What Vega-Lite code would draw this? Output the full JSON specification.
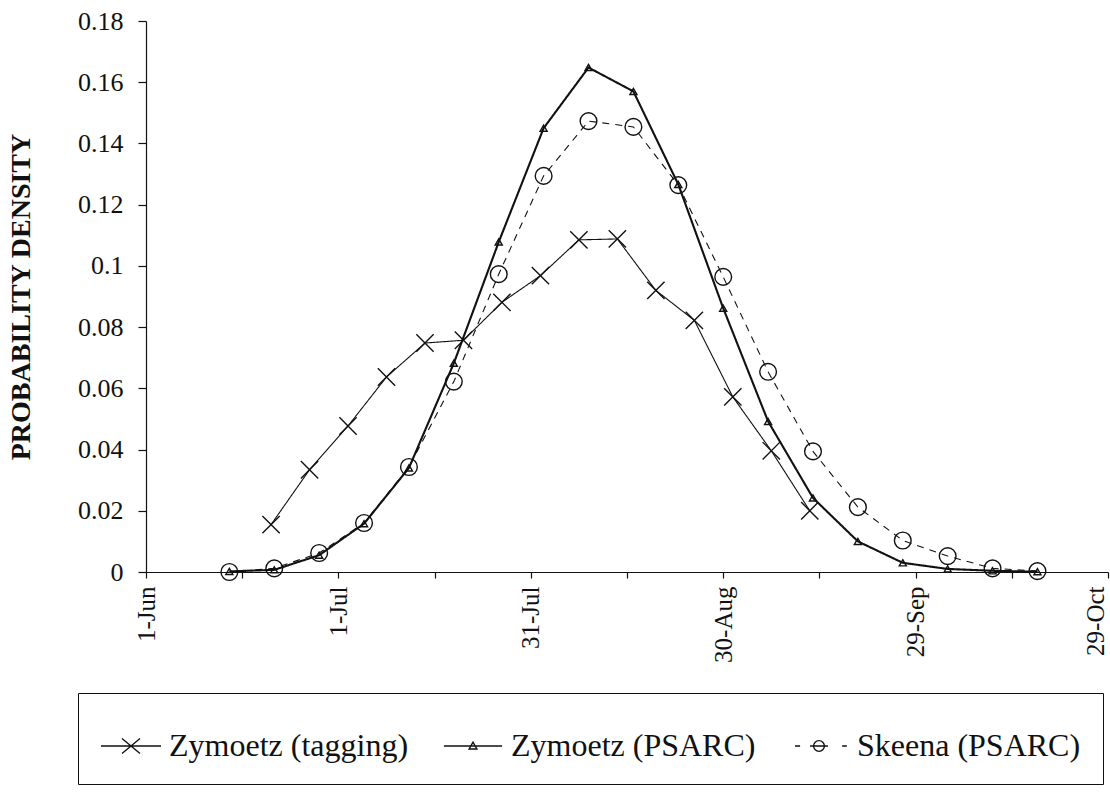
{
  "$schema": "https://vega.github.io/schema/vega-lite/v6.json",
  "width": 962,
  "height": 551,
  "autosize": "none",
  "padding": {"left": 146, "top": 21, "right": 2, "bottom": 223},
  "background": "white",
  "config": {
    "view": {"stroke": null},
    "font": "Liberation Serif, Times New Roman, serif",
    "axis": {"grid": false, "domainColor": "#111", "tickColor": "#111", "labelColor": "#111", "titleColor": "#111", "labelFont": "Liberation Serif, Times New Roman, serif", "titleFont": "Liberation Serif, Times New Roman, serif", "domainWidth": 1.2, "tickWidth": 1.2},
    "legend": {"labelFont": "Liberation Serif, Times New Roman, serif"}
  },
  "data": {
    "values": [
      {"date": "2001-06-20T12:00:00Z", "series": "Zymoetz (tagging)", "value": 0.0155},
      {"date": "2001-06-26T12:00:00Z", "series": "Zymoetz (tagging)", "value": 0.0334},
      {"date": "2001-07-02T12:00:00Z", "series": "Zymoetz (tagging)", "value": 0.0477},
      {"date": "2001-07-08T12:00:00Z", "series": "Zymoetz (tagging)", "value": 0.0637},
      {"date": "2001-07-14T12:00:00Z", "series": "Zymoetz (tagging)", "value": 0.0748},
      {"date": "2001-07-20T12:00:00Z", "series": "Zymoetz (tagging)", "value": 0.0757},
      {"date": "2001-07-26T12:00:00Z", "series": "Zymoetz (tagging)", "value": 0.0881},
      {"date": "2001-08-01T12:00:00Z", "series": "Zymoetz (tagging)", "value": 0.0968},
      {"date": "2001-08-07T12:00:00Z", "series": "Zymoetz (tagging)", "value": 0.1085},
      {"date": "2001-08-13T12:00:00Z", "series": "Zymoetz (tagging)", "value": 0.1088},
      {"date": "2001-08-19T12:00:00Z", "series": "Zymoetz (tagging)", "value": 0.0920},
      {"date": "2001-08-25T12:00:00Z", "series": "Zymoetz (tagging)", "value": 0.0822},
      {"date": "2001-08-31T12:00:00Z", "series": "Zymoetz (tagging)", "value": 0.0572},
      {"date": "2001-09-06T12:00:00Z", "series": "Zymoetz (tagging)", "value": 0.0396},
      {"date": "2001-09-12T12:00:00Z", "series": "Zymoetz (tagging)", "value": 0.0200},

      {"date": "2001-06-14", "series": "Zymoetz (PSARC)", "value": 0.0002},
      {"date": "2001-06-21", "series": "Zymoetz (PSARC)", "value": 0.0007},
      {"date": "2001-06-28", "series": "Zymoetz (PSARC)", "value": 0.0055},
      {"date": "2001-07-05", "series": "Zymoetz (PSARC)", "value": 0.0158},
      {"date": "2001-07-12", "series": "Zymoetz (PSARC)", "value": 0.0340},
      {"date": "2001-07-19", "series": "Zymoetz (PSARC)", "value": 0.0682},
      {"date": "2001-07-26", "series": "Zymoetz (PSARC)", "value": 0.1078},
      {"date": "2001-08-02", "series": "Zymoetz (PSARC)", "value": 0.1450},
      {"date": "2001-08-09", "series": "Zymoetz (PSARC)", "value": 0.1648},
      {"date": "2001-08-16", "series": "Zymoetz (PSARC)", "value": 0.1570},
      {"date": "2001-08-23", "series": "Zymoetz (PSARC)", "value": 0.1266},
      {"date": "2001-08-30", "series": "Zymoetz (PSARC)", "value": 0.0862},
      {"date": "2001-09-06", "series": "Zymoetz (PSARC)", "value": 0.0492},
      {"date": "2001-09-13", "series": "Zymoetz (PSARC)", "value": 0.0242},
      {"date": "2001-09-20", "series": "Zymoetz (PSARC)", "value": 0.0100},
      {"date": "2001-09-27", "series": "Zymoetz (PSARC)", "value": 0.0030},
      {"date": "2001-10-04", "series": "Zymoetz (PSARC)", "value": 0.0010},
      {"date": "2001-10-11", "series": "Zymoetz (PSARC)", "value": 0.0004},
      {"date": "2001-10-18", "series": "Zymoetz (PSARC)", "value": 0.0001},

      {"date": "2001-06-14", "series": "Skeena (PSARC)", "value": 0.0000},
      {"date": "2001-06-21", "series": "Skeena (PSARC)", "value": 0.0012},
      {"date": "2001-06-28", "series": "Skeena (PSARC)", "value": 0.0062},
      {"date": "2001-07-05", "series": "Skeena (PSARC)", "value": 0.0160},
      {"date": "2001-07-12", "series": "Skeena (PSARC)", "value": 0.0343},
      {"date": "2001-07-19", "series": "Skeena (PSARC)", "value": 0.0622},
      {"date": "2001-07-26", "series": "Skeena (PSARC)", "value": 0.0973},
      {"date": "2001-08-02", "series": "Skeena (PSARC)", "value": 0.1294},
      {"date": "2001-08-09", "series": "Skeena (PSARC)", "value": 0.1473},
      {"date": "2001-08-16", "series": "Skeena (PSARC)", "value": 0.1454},
      {"date": "2001-08-23", "series": "Skeena (PSARC)", "value": 0.1264},
      {"date": "2001-08-30", "series": "Skeena (PSARC)", "value": 0.0964},
      {"date": "2001-09-06", "series": "Skeena (PSARC)", "value": 0.0654},
      {"date": "2001-09-13", "series": "Skeena (PSARC)", "value": 0.0394},
      {"date": "2001-09-20", "series": "Skeena (PSARC)", "value": 0.0212},
      {"date": "2001-09-27", "series": "Skeena (PSARC)", "value": 0.0103},
      {"date": "2001-10-04", "series": "Skeena (PSARC)", "value": 0.0052},
      {"date": "2001-10-11", "series": "Skeena (PSARC)", "value": 0.0012},
      {"date": "2001-10-18", "series": "Skeena (PSARC)", "value": 0.0003}
    ]
  },
  "encoding": {
    "x": {
      "field": "date",
      "type": "temporal",
      "scale": {
        "type": "utc",
        "domain": [
          {"year": 2001, "month": 6, "date": 1, "utc": true},
          {"year": 2001, "month": 10, "date": 29, "utc": true}
        ]
      },
      "axis": {
        "title": null,
        "values": [
          {"year": 2001, "month": 6, "date": 1, "utc": true},
          {"year": 2001, "month": 6, "date": 16, "utc": true},
          {"year": 2001, "month": 7, "date": 1, "utc": true},
          {"year": 2001, "month": 7, "date": 16, "utc": true},
          {"year": 2001, "month": 7, "date": 31, "utc": true},
          {"year": 2001, "month": 8, "date": 15, "utc": true},
          {"year": 2001, "month": 8, "date": 30, "utc": true},
          {"year": 2001, "month": 9, "date": 14, "utc": true},
          {"year": 2001, "month": 9, "date": 29, "utc": true},
          {"year": 2001, "month": 10, "date": 14, "utc": true},
          {"year": 2001, "month": 10, "date": 29, "utc": true}
        ],
        "labelExpr": "((datum.value - utc(2001,5,1)) / 86400000) % 30 < 1 ? utcFormat(datum.value, '%-d-%b') : ''",
        "labelAngle": 270,
        "labelAlign": "right",
        "labelBaseline": "middle",
        "labelFontSize": 25,
        "labelOverlap": false,
        "labelFlush": false,
        "labelBound": false,
        "labelOffset": {"condition": {"test": "datum.value > utc(2001,9,20)", "value": -13}, "value": 0},
        "tickSize": 6,
        "labelPadding": 8,
        "encode": {
          "ticks": {
            "update": {
              "y": {"value": -6},
              "y2": {"signal": "((datum.value - utc(2001,5,1)) / 86400000) % 30 < 1 ? 6 : 0"}
            }
          }
        }
      }
    },
    "y": {
      "field": "value",
      "type": "quantitative",
      "scale": {"domain": [0, 0.18], "nice": false, "zero": true},
      "axis": {
        "title": "PROBABILITY DENSITY",
        "titleFontSize": 28,
        "titleFontWeight": "bold",
        "titlePadding": 42,
        "values": [0, 0.02, 0.04, 0.06, 0.08, 0.1, 0.12, 0.14, 0.16, 0.18],
        "format": ".2~f",
        "labelFontSize": 26,
        "tickSize": 8,
        "labelPadding": 15,
        "labelFlush": false,
        "labelOverlap": false
      }
    }
  },
  "layer": [
    {
      "mark": {"type": "line", "color": "#111"},
      "encoding": {
        "detail": {"field": "series"},
        "strokeDash": {
          "field": "series",
          "scale": {"type": "ordinal", "domain": ["Zymoetz (tagging)", "Zymoetz (PSARC)", "Skeena (PSARC)"], "range": [[1, 0], [1, 0], [7, 6]]},
          "legend": null
        },
        "strokeWidth": {
          "field": "series",
          "scale": {"type": "ordinal", "domain": ["Zymoetz (tagging)", "Zymoetz (PSARC)", "Skeena (PSARC)"], "range": [1.1, 2.1, 1.1]},
          "legend": null
        }
      }
    },
    {
      "mark": {"type": "point", "filled": false, "color": "#111", "strokeWidth": 1.4, "opacity": 1},
      "encoding": {
        "shape": {
          "field": "series",
          "scale": {"domain": ["Zymoetz (tagging)", "Zymoetz (PSARC)", "Skeena (PSARC)"], "range": ["M-1,-1L1,1M-1,1L1,-1", "triangle-up", "circle"]},
          "legend": null
        },
        "size": {
          "field": "series",
          "scale": {"type": "ordinal", "domain": ["Zymoetz (tagging)", "Zymoetz (PSARC)", "Skeena (PSARC)"], "range": [300, 50, 280]},
          "legend": null
        }
      }
    },
    {
      "mark": {"type": "point", "filled": false, "color": "#111", "opacity": 0, "size": 3600, "strokeWidth": 1.4},
      "encoding": {
        "shape": {
          "field": "series",
          "scale": {
            "domain": ["Zymoetz (tagging)", "Zymoetz (PSARC)", "Skeena (PSARC)"],
            "range": [
              "M-1,0L1,0M-0.3,-0.25L0.3,0.25M-0.3,0.25L0.3,-0.25",
              "M-0.97,0L0.97,0M-0.13,0.1L0,-0.13L0.13,0.1Z",
              "M-0.8,0L-0.63,0M-0.3,0L0.3,0M0.77,0L0.93,0M0.18,0A0.18,0.18,0,1,1,-0.18,0A0.18,0.18,0,1,1,0.18,0"
            ]
          },
          "legend": {
            "title": null,
            "orient": "none",
            "legendX": -68,
            "legendY": 672,
            "direction": "horizontal",
            "columns": 3,
            "symbolSize": 3600,
            "symbolOpacity": 1,
            "symbolStrokeColor": "#111",
            "symbolFillColor": "transparent",
            "symbolStrokeWidth": 1.4,
            "labelFontSize": 32,
            "labelColor": "#111",
            "labelLimit": 500,
            "labelOffset": 7,
            "columnPadding": 32,
            "padding": 22,
            "strokeColor": "#111",
            "fillColor": "white"
          }
        }
      }
    }
  ],
  "resolve": {
    "scale": {"shape": "independent", "size": "independent", "strokeWidth": "independent", "strokeDash": "independent"}
  }
}
